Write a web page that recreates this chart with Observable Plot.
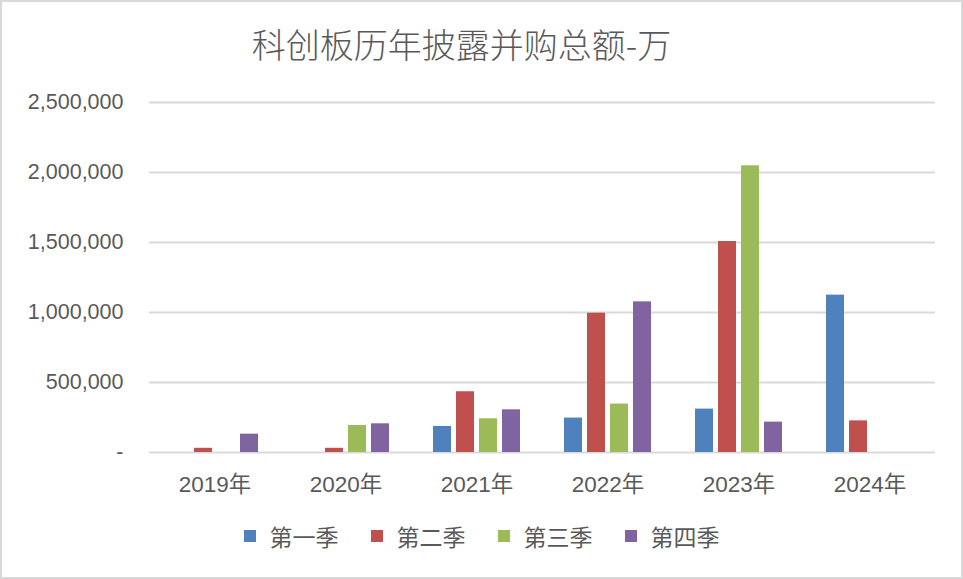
<!DOCTYPE html>
<html><head><meta charset="utf-8">
<script src="https://cdn.jsdelivr.net/npm/d3@7"></script>
<script src="https://cdn.jsdelivr.net/npm/@observablehq/plot@0.6"></script>
<style>
html,body{margin:0;padding:0;background:#fff;}
#wrap{position:relative;width:963px;height:579px;overflow:hidden;background:#fff;}
#border{position:absolute;left:0;top:0;width:959px;height:575px;border:2px solid #d9d9d9;pointer-events:none;}
#title{position:absolute;left:0;top:0;width:923px;height:80px;line-height:88px;text-align:center;font-family:"Noto Sans CJK SC",sans-serif;font-weight:300;font-size:34px;color:#595959;padding-right:40px;}
#chart{position:absolute;left:0;top:80px;}
#legend{position:absolute;left:0;top:521px;width:963px;height:30px;display:flex;justify-content:center;align-items:center;gap:0;font-family:"Noto Sans CJK SC",sans-serif;font-size:23px;color:#595959;}
.item{display:flex;align-items:center;margin:0 16px;}
.sw{width:12px;height:12px;margin-right:14px;}
</style></head>
<body>
<div id="wrap">
<div id="title">科创板历年披露并购总额-万</div>
<div id="chart"></div>
<div id="legend"></div>
<div id="border"></div>
</div>
<script>
const years = ["2019年","2020年","2021年","2022年","2023年","2024年"];
const quarters = ["第一季","第二季","第三季","第四季"];
const q1 = [null, null, 186000, 246000, 310000, 1124000];
const q2 = [30000, 30000, 434000, 995000, 1507000, 226000];
const q3 = [null, 193000, 241000, 346000, 2048000, null];
const q4 = [131000, 205000, 305000, 1076000, 217000, null];
const colors = ["#4f81bd","#c0504d","#9bbb59","#8064a2"];
const yTicks = [0, 500000, 1000000, 1500000, 2000000, 2500000];

const series = [q1, q2, q3, q4];
const data = [];
years.forEach((y, i) => quarters.forEach((q, j) => {
  if (series[j][i] != null) data.push({year: y, q, v: series[j][i]});
}));

const fmt = d => d === 0 ? "-" : d3.format(",")(d);

const chart = Plot.plot({
  width: 963, height: 422,
  marginLeft: 148, marginRight: 28, marginTop: 22, marginBottom: 50,
  style: {fontFamily: "'Liberation Sans','Noto Sans CJK SC',sans-serif", fontSize: "21px", color: "#595959", background: "transparent"},
  fx: {domain: years, padding: 0, label: null, axis: null},
  x: {domain: quarters, paddingInner: 0.2, paddingOuter: 0.875, axis: null},
  y: {domain: [0, 2500000], label: null},
  color: {domain: quarters, range: colors},
  marks: [
    Plot.ruleY(yTicks, {stroke: "#d9d9d9", strokeWidth: 2}),
    Plot.barY(data, {fx: "year", x: "q", y: "v", fill: "q"}),
    Plot.axisY(yTicks, {tickFormat: fmt, tickSize: 0, tickPadding: 26, label: null, fill: "#595959", fontSize: 21.5}),
    Plot.axisFx({anchor: "bottom", tickSize: 0, tickPadding: 24, label: null, fill: "#595959", fontSize: 22.5})
  ]
});
document.getElementById("chart").appendChild(chart);

const lg = document.getElementById("legend");
quarters.forEach((q, j) => {
  const it = document.createElement("div"); it.className = "item";
  const sw = document.createElement("div"); sw.className = "sw"; sw.style.background = colors[j];
  const t = document.createElement("span"); t.textContent = q;
  it.appendChild(sw); it.appendChild(t); lg.appendChild(it);
});
</script>
</body></html>
